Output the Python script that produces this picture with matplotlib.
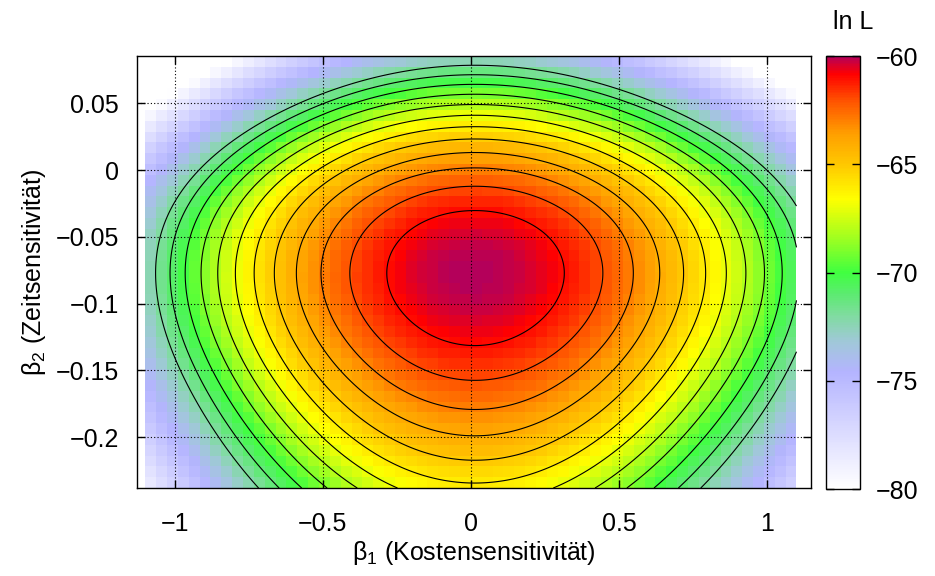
import numpy as np
import matplotlib
matplotlib.use("Agg")
import matplotlib.pyplot as plt
from matplotlib.colors import LinearSegmentedColormap

plt.rcParams['font.family'] = ['Liberation Sans', 'DejaVu Sans']
plt.rcParams['font.size'] = 18
plt.rcParams['mathtext.default'] = 'regular'

# Maximum of the log-likelihood and the contour levels (one per unit)
LN_L_MAX = -60.0
CONTOUR_LEVELS = [-72, -71, -70, -69, -68, -67, -66, -65, -64, -63, -62, -61]

# Profile in beta_1 direction, read off the contour crossings along the
# row through the maximum (position -> drop of ln L below the maximum)
B1_POS = [-1.067, -1.016, -0.963, -0.911, -0.855, -0.794, -0.734, -0.667,
          -0.591, -0.502, -0.411, -0.284, 0.015, 0.314, 0.446, 0.547,
          0.639, 0.720, 0.794, 0.861, 0.929, 0.993, 1.051]
B1_DROP = [12, 11, 10, 9, 8, 7, 6, 5, 4, 3, 2, 1, 0,
           1, 2, 3, 4, 5, 6, 7, 8, 9, 10]

# Profile in beta_2 direction, read along the column beta_1 = 0
B2_POS = [-0.2346, -0.2166, -0.1991, -0.1791, -0.1576, -0.1316, -0.0766,
          -0.0306, -0.0116, 0.0019, 0.0124, 0.0234, 0.0324, 0.0414,
          0.0494, 0.0569, 0.0644, 0.0714, 0.0784]
B2_DROP = [6, 5, 4, 3, 2, 1, 0, 1, 2, 3, 4, 5, 6, 7, 8, 9, 10, 11, 12]

# sampled range of the surface
B1_RANGE = (-1.1, 1.1)
B2_RANGE = (-0.238, 0.0855)

X_TICKS = [-1, -0.5, 0, 0.5, 1]
Y_TICKS = [0.05, 0, -0.05, -0.1, -0.15, -0.2]
CBAR_TICKS = [-80, -75, -70, -65, -60]

# palette (value -> colour)
PALETTE = [(-80.0, '#ffffff'), (-74.6, '#b4b4ff'), (-73.2, '#a0c8d8'),
           (-72.0, '#80dca0'), (-71.0, '#5ceb70'), (-70.0, '#40ff40'),
           (-68.4, '#a0ff20'), (-66.6, '#ffff00'), (-65.0, '#ffc800'),
           (-63.6, '#ffa000'), (-62.0, '#ff5000'), (-60.8, '#ff0000'),
           (-60.0, '#b4005a')]

FS = 18


def drop_profile(pos, drop, q):
    # smooth fit of the signed square root of the drop, squared again
    r = np.sqrt(np.asarray(drop, float))
    r[:int(np.argmin(drop))] *= -1
    coef = np.polyfit(np.asarray(pos, float), r, 5)
    return np.polyval(coef, q) ** 2


def surface(xs, ys):
    return (LN_L_MAX - drop_profile(B1_POS, B1_DROP, xs)[None, :]
            - drop_profile(B2_POS, B2_DROP, ys)[:, None])


lo_v, hi_v = PALETTE[0][0], PALETTE[-1][0]
cmap = LinearSegmentedColormap.from_list(
    'lnl', [((v - lo_v) / (hi_v - lo_v), c) for v, c in PALETTE])

fig = plt.figure(figsize=(9.35, 5.76), dpi=100)
ax = fig.add_axes([137 / 935, 1 - 488 / 576, 674 / 935, 432 / 576])

# coarse cells like pm3d (corner average)
xs = np.linspace(*B1_RANGE, 61)
ys = np.linspace(*B2_RANGE, 41)
Z = surface(xs, ys)
cells = 0.25 * (Z[:-1, :-1] + Z[1:, :-1] + Z[:-1, 1:] + Z[1:, 1:])
mesh = ax.pcolormesh(xs, ys, cells, cmap=cmap, vmin=-80, vmax=-60,
                     shading='flat', zorder=1)

xf = np.linspace(*B1_RANGE, 600)
yf = np.linspace(*B2_RANGE, 400)
ax.contour(xf, yf, surface(xf, yf), levels=CONTOUR_LEVELS,
           colors='black', linewidths=0.8, linestyles='solid', zorder=2)

ax.set_xlim(-1.128, 1.149)
ax.set_ylim(*B2_RANGE)

fmt = lambda v: ('%g' % v).replace('-', '\u2212')
ax.set_xticks(X_TICKS)
ax.set_xticklabels([fmt(v) for v in X_TICKS])
ax.set_yticks(Y_TICKS)
ax.set_yticklabels([fmt(v) for v in Y_TICKS])
ax.tick_params(direction='in', length=6, width=1, top=True, right=True,
               labelsize=FS)
ax.tick_params(axis='x', pad=17)
ax.tick_params(axis='y', pad=13)
ax.set_axisbelow(False)
ax.grid(True, color='black', linestyle=(0, (1, 2)), linewidth=0.8)
for s in ax.spines.values():
    s.set_linewidth(1)

ax.set_xlabel(r'$\mathregular{β_1}$ (Kostensensitivität)', fontsize=FS)
ax.set_ylabel(r'$\mathregular{β_2}$ (Zeitsensitivität)', fontsize=FS)
ax.xaxis.set_label_coords(0.5, (488 - 553) / 432)
ax.xaxis.label.set_va('center')
ax.yaxis.set_label_coords((34 - 137) / 674, 0.5)
ax.yaxis.label.set_va('center')

cax = fig.add_axes([826 / 935, 1 - 489 / 576, 34 / 935, 433 / 576])
cb = fig.colorbar(mesh, cax=cax, ticks=CBAR_TICKS)
cb.ax.tick_params(direction='in', length=6, width=1, left=True, right=True,
                  labelsize=FS, pad=11)
cb.outline.set_linewidth(1)
fig.text(853 / 935, 1 - 22 / 576, 'ln L', ha='center', va='center',
         fontsize=FS)

fig.savefig('out.png', dpi=100)
